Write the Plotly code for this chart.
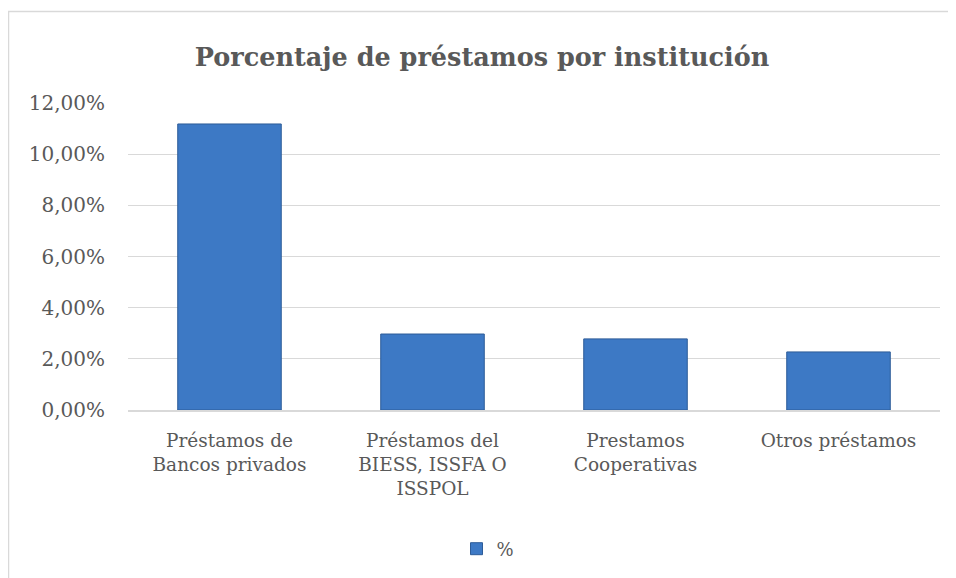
import plotly.graph_objects as go

categories = [
    "Préstamos de<br>Bancos privados",
    "Préstamos del<br>BIESS, ISSFA O<br>ISSPOL",
    "Prestamos<br>Cooperativas",
    "Otros préstamos",
]
values = [0.1118, 0.0297, 0.0278, 0.0227]
y_ticks = [0, 0.02, 0.04, 0.06, 0.08, 0.10, 0.12]

GRAY = "#595959"
GRID = "#D9D9D9"
FONT = "DejaVu Serif"

# the page body has an 8px margin, so the figure is sized/offset to compensate
W, H = 948, 570

fig = go.Figure()
fig.add_trace(
    go.Bar(
        x=categories,
        y=values,
        name="%",
        marker=dict(color="#3D79C5", line=dict(color="#2D5C98", width=1)),
    )
)

fig.update_layout(
    width=W,
    height=H,
    margin=dict(l=120, r=16, t=95, b=168),
    paper_bgcolor="white",
    plot_bgcolor="white",
    separators=",.",
    bargap=0.49,
    font=dict(family=FONT, size=18, color=GRAY),
    title=dict(
        text="<b>Porcentaje de préstamos por institución</b>",
        font=dict(family=FONT, size=25.5, color=GRAY),
        x=0.5,
        xref="container",
        xanchor="center",
        y=1 - 49 / H,
        yanchor="middle",
    ),
    xaxis=dict(
        showgrid=False,
        showline=True,
        linecolor=GRID,
        linewidth=1.5,
        ticks="",
        ticklabelstandoff=13,
        tickfont=dict(size=18.5, color=GRAY),
    ),
    yaxis=dict(
        range=[0, 0.12],
        tickvals=y_ticks,
        tickformat=".2%",
        showgrid=True,
        gridcolor=GRID,
        gridwidth=1,
        zeroline=False,
        showline=False,
        ticks="",
        ticklabelstandoff=22,
        tickfont=dict(size=20, color=GRAY),
    ),
    showlegend=True,
    legend=dict(
        orientation="h",
        x=0.5 + 6 / W,
        xref="container",
        xanchor="center",
        y=1 - 541 / H,
        yref="container",
        yanchor="middle",
        font=dict(size=18, color=GRAY),
        itemwidth=30,
    ),
    shapes=[
        dict(
            type="rect",
            xref="paper",
            yref="paper",
            x0=(0.5 - 120) / 812,
            x1=1.2,
            y0=-1,
            y1=(402 - 3.5) / 307,
            line=dict(color=GRID, width=1.5),
            layer="below",
        )
    ],
)

fig.write_html("out.html")
